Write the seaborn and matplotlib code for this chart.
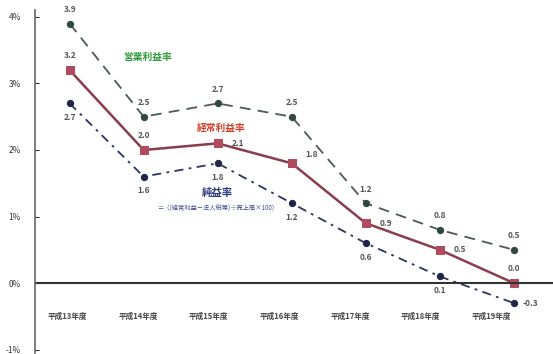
import matplotlib
matplotlib.use("Agg")
import matplotlib.pyplot as plt
import seaborn as sns
import pandas as pd

years = ["平成13年度", "平成14年度", "平成15年度", "平成16年度", "平成17年度", "平成18年度", "平成19年度"]
eigyo = [3.9, 2.5, 2.7, 2.5, 1.2, 0.8, 0.5]
keijo = [3.2, 2.0, 2.1, 1.8, 0.9, 0.5, 0.0]
junri = [2.7, 1.6, 1.8, 1.2, 0.6, 0.1, -0.3]

sns.set_style("white")
plt.rcParams["font.family"] = ["Noto Sans CJK JP", "DejaVu Sans"]

df = pd.DataFrame({"pos": range(len(years)), "eigyo": eigyo, "keijo": keijo, "junri": junri})

fig = plt.figure(figsize=(5.53, 3.54), dpi=100)
ax = fig.add_axes([0.063, 0.003, 0.937, 0.968])

red = "#8a3d4c"
blue = "#2a3560"

sns.lineplot(data=df, x="pos", y="eigyo", ax=ax, color="#4a5a55", linestyle=(0, (6, 4)),
             linewidth=1.3, marker="o", markersize=4.5, markerfacecolor="#2f4a3c", markeredgecolor="#2f4a3c")
sns.lineplot(data=df, x="pos", y="keijo", ax=ax, color=red, linestyle="-",
             linewidth=1.8, marker="s", markersize=5.5, markerfacecolor="#b04a5e", markeredgecolor="#b04a5e")
sns.lineplot(data=df, x="pos", y="junri", ax=ax, color=blue, linestyle=(0, (5, 3, 1.5, 3)),
             linewidth=1.3, marker="o", markersize=4.5, markerfacecolor="#1e2648", markeredgecolor="#1e2648")

lab = dict(fontsize=6, color="#555555", fontweight="bold")
# 営業利益率 labels: above
for i, v in enumerate(eigyo):
    ax.annotate(f"{v:.1f}", (i, v), xytext=(0, 7), textcoords="offset points", ha="center", va="bottom", **lab)
# 経常利益率 labels
keijo_off = [(0, 7), (0, 7), (10, 0), (10, 3), (10, 0), (10, 0), (0, 7)]
for i, v in enumerate(keijo):
    dx, dy = keijo_off[i]
    ax.annotate(f"{v:.1f}", (i, v), xytext=(dx, dy), textcoords="offset points",
                ha="center" if dx == 0 else "left", va="bottom" if dy > 0 else "center", **lab)
# 純益率 labels: below
for i, v in enumerate(junri):
    if i == len(junri) - 1:
        ax.annotate(f"{v:.1f}", (i, v), xytext=(6, 0), textcoords="offset points", ha="left", va="center", **lab)
    else:
        ax.annotate(f"{v:.1f}", (i, v), xytext=(0, -7), textcoords="offset points", ha="center", va="top", **lab)

ax.text(1.05, 3.4, "営業利益率", color="#2e9a3a", fontsize=7, fontweight="bold", ha="center", va="center")
ax.text(2.05, 2.33, "経常利益率", color="#d0402a", fontsize=7, fontweight="bold", ha="center", va="center")
ax.text(2.0, 1.36, "純益率", color="#2a3a80", fontsize=7.5, fontweight="bold", ha="center", va="center")
ax.text(2.0, 1.12, "＝（(経常利益－法人税等)÷売上高×100）", color="#3a4a90", fontsize=4.5, ha="center", va="center")

# category labels drift slightly left of the points, as in the original
for i, y in enumerate(years):
    ax.text(i * 0.955 - 0.03, -0.5, y, fontsize=5.5, color="#444444", fontweight="bold", ha="center", va="center")

ax.axhline(0, color="#333333", linewidth=1.5)
ax.set_xlim(-0.47, 6.53)
ax.set_ylim(-1.05, 4.1)
ax.set_yticks([-1, 0, 1, 2, 3, 4])
ax.set_yticklabels(["-1%", "0%", "1%", "2%", "3%", "4%"], fontsize=6, color="#333333")
ax.tick_params(axis="y", direction="in", length=3, pad=10, left=True)
ax.set_xticks([])
ax.set_xlabel("")
ax.set_ylabel("")
for s in ["top", "right", "bottom"]:
    ax.spines[s].set_visible(False)
ax.spines["left"].set_color("#666666")
ax.spines["left"].set_linewidth(1.2)

fig.savefig("out.png", dpi=100)
